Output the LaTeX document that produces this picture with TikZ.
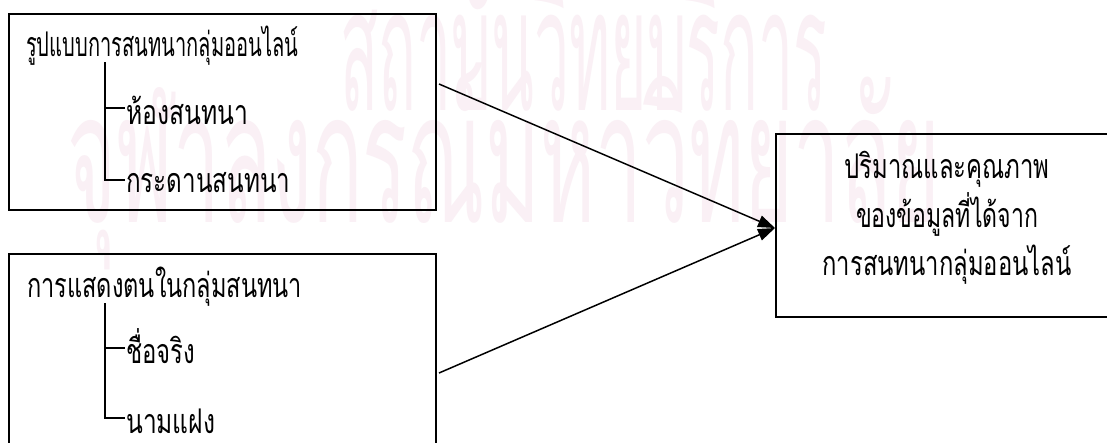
\documentclass[tikz,border=0pt]{standalone}
\usepackage{graphicx}
\usepackage{fontspec}
\setmainfont[Script=Thai]{Loma}
\newfontfamily\thaitext[Script=Thai]{Loma}
\newfontfamily\wmfont[Script=Thai]{Loma}
\usetikzlibrary{arrows.meta}
\definecolor{wmpink}{RGB}{250,240,245}
\newcommand\fitw[2]{\resizebox{#1pt}{\height}{#2}}
\begin{document}
\begin{tikzpicture}[x=1pt,y=-1pt,
  box/.style={draw=black, line width=1.5pt, inner sep=0pt, anchor=north west},
  lbl/.style={anchor=base west, inner sep=0pt, font=\thaitext\fontsize{34}{38}\selectfont},
  rlbl/.style={anchor=base, inner sep=0pt, font=\thaitext\fontsize{34}{38}\selectfont},
  tree/.style={draw=black, line width=1.5pt},
  arr/.style={draw=black, line width=1.5pt, -{Triangle[length=17pt,width=12pt]}},
  wm/.style={anchor=base west, inner sep=0pt, text=wmpink}
]
\clip (0,0) rectangle (1107,442);
\fill[white] (0,0) rectangle (1107,442);
% watermark
\node[wm, font=\wmfont\fontsize{170}{180}\selectfont] (wm1) at (340,110) {\fitw{487}{สถาบันวิทยบริการ}};
\node[wm, font=\wmfont\fontsize{182}{190}\selectfont] (wm2) at (67,222) {\fitw{873}{จุฬาลงกรณ์มหาวิทยาลัย}};
% boxes
\node[box, minimum width=427pt, minimum height=196pt] (b1) at (8,13) {};
\node[box, minimum width=427pt, minimum height=260pt] (b2) at (8,253) {};
\node[box, minimum width=360pt, minimum height=183pt] (r) at (775,133) {};
% box 1 texts
\node[lbl] (t1) at (26,56) {\fitw{272}{รูปแบบการสนทนากลุ่มออนไลน์}};
\node[lbl] (t1a) at (126,124) {\fitw{122}{ห้องสนทนา}};
\node[lbl] (t1b) at (126,192) {\fitw{164}{กระดานสนทนา}};
\coordinate (j1) at (105,62);
\coordinate (e1a) at (125,108);
\coordinate (e1b) at (125,180);
\draw[tree] (j1) |- (e1b);
\draw[tree] (j1 |- e1a) -- (e1a);
% box 2 texts
\node[lbl] (t2) at (27,297) {\fitw{275}{การแสดงตนในกลุ่มสนทนา}};
\node[lbl] (t2a) at (126,363) {\fitw{69}{ชื่อจริง}};
\node[lbl] (t2b) at (126,433) {\fitw{89}{นามแฝง}};
\coordinate (j2) at (105,303);
\coordinate (e2a) at (125,348);
\coordinate (e2b) at (125,418);
\draw[tree] (j2) |- (e2b);
\draw[tree] (j2 |- e2a) -- (e2a);
% right box texts
\node[rlbl] (r1) at (947,178) {\fitw{205}{ปริมาณและคุณภาพ}};
\node[rlbl] (r2) at (947,227) {\fitw{182}{ของข้อมูลที่ได้จาก}};
\node[rlbl] (r3) at (947,275) {\fitw{249}{การสนทนากลุ่มออนไลน์}};
% connectors
\coordinate (a1) at (439,84);
\coordinate (a2) at (439,373);
\coordinate (tip) at (r.west |- 0,228);
\draw[arr] (a1) -- (tip);
\draw[arr] (a2) -- (tip);
\end{tikzpicture}
\end{document}
